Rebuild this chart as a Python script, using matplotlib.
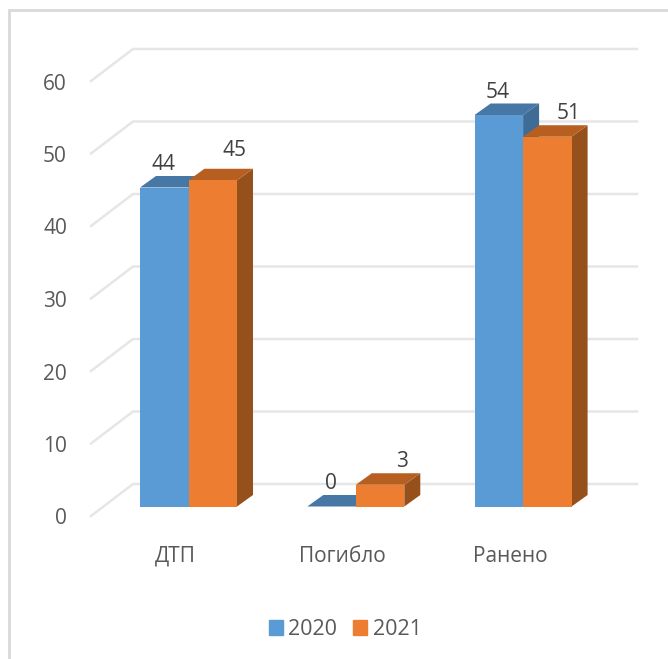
#!/usr/bin/env python3
"""Fake-3D clustered columns, 2020 vs 2021."""

import matplotlib
matplotlib.use("Agg")
import matplotlib.pyplot as plt
from matplotlib.patches import Patch

plt.rcParams["font.family"] = ["Open Sans", "DejaVu Sans"]

# ── Data ──────────────────────────────────────────────────────────────────────

categories = ["ДТП", "Погибло", "Ранено"]
years = ["2020", "2021"]
values_2020 = [44, 0, 54]
values_2021 = [45, 3, 51]
y_ticks = [0, 10, 20, 30, 40, 50, 60]

# ── Geometry (pixels per data unit, depth offsets) ────────────────────────────

W, H = 668, 659
X0, XU = 188.5, 167.3  # pixel of category 0, pixels per category
Y0, YU = 506.5, 7.25   # pixel of value 0, pixels per value unit
BAR_W = 48.5 / XU
DEPTH_X, DEPTH_Y = 16 / XU, 11.5 / YU

BLUE = ("#5B9BD5", "#4677A5", "#3F6C97")
ORANGE = ("#ED7D31", "#B75F20", "#96501B")
GRID = "#E6E6E6"
AXIS_TEXT = "#595959"
LABEL_TEXT = "#404040"

fig = plt.figure(figsize=(W / 100, H / 100), dpi=100)
ax = fig.add_axes([0, 0, 1, 1])
ax.set_xlim(-X0 / XU, (W - X0) / XU)
ax.set_ylim((Y0 - H) / YU, Y0 / YU)
ax.axis("off")


def dx(px):
    return px / XU


def dy(px):
    return px / YU


# ── Wall gridlines and value labels ───────────────────────────────────────────

x_min = ax.get_xlim()[0]
y_min, y_top = ax.get_ylim()
wall_left = x_min + dx(133)
wall_right = x_min + dx(637)
floor_left = x_min + dx(91)

for v in y_ticks:
    ax.plot([floor_left, wall_left, wall_right],
            [v - dy(9.5), v + dy(22.5), v + dy(22.5)],
            color=GRID, linewidth=1.8, solid_joinstyle="miter", zorder=1)
    ax.text(x_min + dx(67), v - dy(12.5), str(v), ha="right", va="center",
            fontsize=15, color=AXIS_TEXT)


# ── Columns ───────────────────────────────────────────────────────────────────

def column(x, v, colors, z):
    front, top, side = colors
    ax.fill([x + BAR_W, x + BAR_W + DEPTH_X, x + BAR_W + DEPTH_X, x + BAR_W],
            [0, DEPTH_Y, v + DEPTH_Y, v], color=side, linewidth=0, zorder=z)
    ax.fill([x, x + DEPTH_X, x + BAR_W + DEPTH_X, x + BAR_W],
            [v, v + DEPTH_Y, v + DEPTH_Y, v], color=top, linewidth=0, zorder=z)
    if v > 0:
        ax.bar(x, v, BAR_W, align="edge", color=front, linewidth=0, zorder=z + 0.1)


for i, cat in enumerate(categories):
    column(i - BAR_W, values_2020[i], BLUE, 2 + i)
    column(i, values_2021[i], ORANGE, 2.5 + i)

    ax.annotate(str(values_2020[i]), (i - BAR_W / 2, values_2020[i]),
                xytext=(-1, 23), textcoords="offset pixels",
                ha="center", va="center", fontsize=15, color=LABEL_TEXT, zorder=10)
    # the 45 sits a bit higher than the others in the original
    lift = 30 if values_2021[i] == 45 else 23
    ax.annotate(str(values_2021[i]), (i + BAR_W / 2, values_2021[i]),
                xytext=(21.5, lift), textcoords="offset pixels",
                ha="center", va="center", fontsize=15, color=LABEL_TEXT, zorder=10)

    ax.text(i - dx(13), y_top - dy(556), cat, ha="center", va="center",
            fontsize=15, color=AXIS_TEXT)

# ── Frame and legend ──────────────────────────────────────────────────────────

ax.plot([x_min + dx(9), x_min + dx(9), x_min + dx(W)],
        [y_min, y_top - dy(10), y_top - dy(10)],
        color="#D9D9D9", linewidth=2, solid_joinstyle="miter", zorder=0)

handles = [Patch(color=BLUE[0], label=years[0]), Patch(color=ORANGE[0], label=years[1])]
ax.legend(handles=handles, ncol=2, frameon=False, fontsize=15.5,
          loc="center", bbox_to_anchor=(345 / W, 1 - 629.5 / H),
          handlelength=0.65, handleheight=0.65, handletextpad=0.25,
          columnspacing=0.75, labelcolor=AXIS_TEXT)

fig.savefig("out.png", dpi=100)
